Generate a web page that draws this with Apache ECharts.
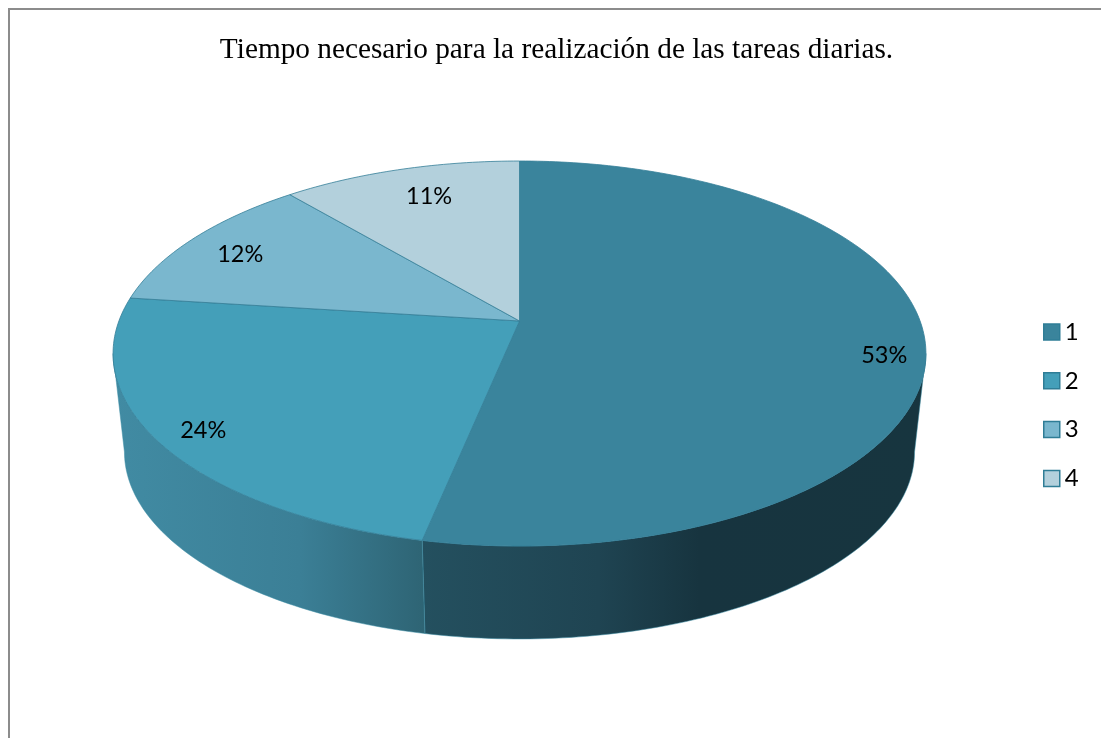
<!DOCTYPE html>
<html>
<head>
<meta charset="utf-8">
<title>Tiempo necesario</title>
<script src="https://cdn.jsdelivr.net/npm/echarts@6/dist/echarts.min.js"></script>
<style>
  html, body { margin: 0; padding: 0; background: #fff; }
  #chart { width: 1101px; height: 738px; }
</style>
</head>
<body>
<div id="chart"></div>
<script>
const titleText = "Tiempo necesario para la realización de las tareas diarias.";
const categories = ["1", "2", "3", "4"];
const shares = [53.25, 23.75, 11.8, 11.2];

const topColors = ["#3a849c", "#449fb9", "#7ab7ce", "#b3d0dc"];
const sideStops = [
  [[0, "#24505f"], [0.35, "#1f4452"], [0.55, "#17343f"], [1, "#17353f"]],
  [[0, "#418ba3"], [0.6, "#3b7f96"], [1, "#2e6474"]],
  [[0, "#3b7f96"], [1, "#3b7f96"]],
  [[0, "#3b7f96"], [1, "#3b7f96"]],
];
const labelNudge = [[21, 18], [-14, 9], [1, 4], [13, 7]];

// perspective view of the disc, apex is not the centre of the ellipse
const apexX = 519.5;
const topApexY = 321;
const bottomApexY = 420.3;
const bottomScale = 0.972;
const spreadX = 400.6;
const spreadY = 187;
const tilt = -0.1688;
const total = shares.reduce((a, b) => a + b, 0);

// the wall only shows between the left and right extremes of the rim
const wallFrom = (Math.acos(tilt) * 180) / Math.PI;
const wallTo = 360 - wallFrom;

function project(deg, r, apexY, scale) {
  const rad = (deg * Math.PI) / 180;
  const u = r * Math.sin(rad);
  const v = -r * Math.cos(rad);
  const w = 1 + tilt * v;
  return [apexX + (scale * spreadX * u) / w, apexY + (scale * spreadY * v) / w];
}

function rim(from, to, apexY, scale) {
  const pts = [];
  const n = Math.max(2, Math.ceil(to - from));
  for (let i = 0; i <= n; i++) {
    pts.push(project(from + ((to - from) * i) / n, 1, apexY, scale));
  }
  return pts;
}

function renderSlice(params, api) {
  const i = params.seriesIndex;
  const before = shares.slice(0, i).reduce((a, b) => a + b, 0);
  const from = (before / total) * 360;
  const to = ((before + api.value(0)) / total) * 360;
  const topRim = rim(from, to, topApexY, 1);
  const labelPos = project((from + to) / 2, 0.85, topApexY, 1);
  const children = [];

  const sideFrom = Math.max(from, wallFrom);
  const sideTo = Math.min(to, wallTo);
  if (sideTo > sideFrom) {
    const sideTop = rim(sideFrom, sideTo, topApexY, 1);
    const sideBottom = rim(sideFrom, sideTo, bottomApexY, bottomScale);
    const xs = sideTop.concat(sideBottom).map((p) => p[0]);
    children.push({
      type: "polygon",
      z2: 1,
      shape: { points: sideTop.concat(sideBottom.slice().reverse()) },
      style: {
        fill: new echarts.graphic.LinearGradient(
          Math.min(...xs), 0, Math.max(...xs), 0,
          sideStops[i].map((s) => ({ offset: s[0], color: s[1] })),
          true
        ),
        stroke: "#3a8ca5",
        lineWidth: 0.5,
      },
    });
  }

  children.push({
    type: "polygon",
    z2: 10,
    shape: { points: [[apexX, topApexY]].concat(topRim) },
    style: {
      fill: topColors[i],
      stroke: "#357f98",
      lineWidth: 0.8,
    },
  });
  children.push({
    type: "text",
    z2: 20,
    x: labelPos[0] + labelNudge[i][0],
    y: labelPos[1] + labelNudge[i][1],
    style: {
      text: Math.round((api.value(0) / total) * 100) + "%",
      fill: "#000",
      font: "23.5px Lato",
      align: "center",
      verticalAlign: "middle",
    },
  });

  return { type: "group", children: children };
}

const myChart = echarts.init(document.getElementById("chart"), null, { renderer: "canvas" });
myChart.setOption({
  animation: false,
  title: {
    text: titleText,
    left: 551.5,
    top: 31,
    textAlign: "center",
    textStyle: { fontFamily: "Liberation Serif", fontSize: 29.3, fontWeight: "normal", color: "#000" },
  },
  legend: {
    data: categories,
    orient: "vertical",
    left: 1038,
    top: 315,
    itemWidth: 16,
    itemHeight: 16,
    itemGap: 24.8,
    icon: "rect",
    selectedMode: false,
    itemStyle: { borderColor: "#2f7d96", borderWidth: 1.5 },
    textStyle: { fontFamily: "Lato", fontSize: 24, color: "#000", lineHeight: 16 },
  },
  graphic: [
    {
      type: "polyline",
      silent: true,
      shape: { points: [[9, 738], [9, 9], [1101, 9]] },
      style: { fill: null, stroke: "#8c8c8c", lineWidth: 2 },
    },
  ],
  series: categories.map((name, i) => ({
    type: "custom",
    name: name,
    coordinateSystem: "none",
    renderItem: renderSlice,
    itemStyle: { color: topColors[i] },
    data: [[shares[i]]],
  })),
});
</script>
</body>
</html>
